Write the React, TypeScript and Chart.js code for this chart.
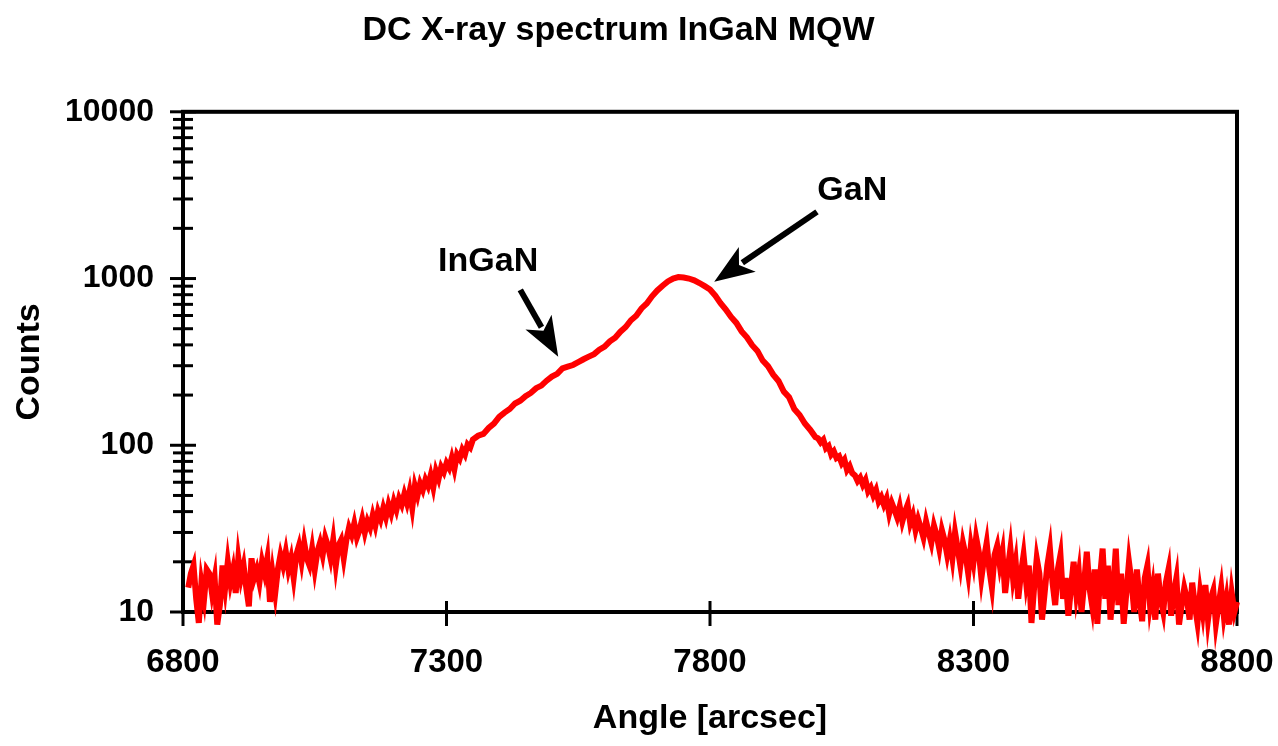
import React, { useEffect, useRef } from 'react';
import { Chart, registerables } from 'chart.js';

Chart.register(...registerables);

const TITLE = 'DC X-ray spectrum InGaN MQW';
const X_LABEL = 'Angle [arcsec]';
const Y_LABEL = 'Counts';
const X_TICKS = [6800, 7300, 7800, 8300, 8800];
const Y_DECADES = [10, 100, 1000, 10000];

const ANGLES = [
  6810, 6815, 6820, 6825, 6830, 6835, 6840, 6845, 6850, 6855,
  6860, 6865, 6870, 6875, 6880, 6885, 6890, 6895, 6900, 6905,
  6910, 6915, 6920, 6925, 6930, 6935, 6940, 6945, 6950, 6955,
  6960, 6965, 6970, 6975, 6980, 6985, 6990, 6995, 7000, 7005,
  7010, 7015, 7020, 7025, 7030, 7035, 7040, 7045, 7050, 7055,
  7060, 7065, 7070, 7075, 7080, 7085, 7090, 7095, 7100,
  7105, 7110, 7115, 7120, 7125, 7130, 7135, 7140, 7145, 7150,
  7155, 7160, 7165, 7170, 7175, 7180, 7185, 7190, 7195, 7200,
  7205, 7210, 7215, 7220, 7225, 7230, 7235, 7240, 7245, 7250,
  7255, 7260, 7265, 7270, 7275, 7280, 7285, 7290, 7295, 7300,
  7305, 7310, 7315, 7320, 7325, 7330, 7335, 7340, 7345, 7350,
  7360, 7370, 7380, 7390, 7400,
  7410, 7420, 7430, 7440, 7450, 7460, 7470, 7480, 7490, 7500,
  7510, 7520, 7530, 7540, 7550, 7560, 7570, 7580, 7590, 7600,
  7610, 7620, 7630, 7640, 7650, 7660, 7670, 7680, 7690, 7700,
  7710, 7720, 7730, 7740, 7750, 7760, 7770, 7780, 7790, 7800,
  7810, 7820, 7830, 7840, 7850, 7860, 7870, 7880, 7890, 7900,
  7910, 7920, 7930, 7940, 7950, 7960, 7970, 7980, 7990, 8000,
  8005, 8010, 8015, 8020, 8025, 8030, 8035, 8040, 8045, 8050,
  8055, 8060, 8065, 8070, 8075, 8080, 8085, 8090, 8095, 8100,
  8105, 8110, 8115, 8120, 8125, 8130, 8135, 8140, 8145, 8150,
  8155, 8160, 8165, 8170, 8175, 8180, 8185, 8190, 8195, 8200,
  8205, 8210, 8215, 8220, 8225, 8230, 8235, 8240, 8245, 8250,
  8255, 8260, 8265, 8270, 8275, 8280, 8285, 8290, 8295, 8300,
  8305, 8310, 8315, 8320, 8325, 8330, 8335, 8340, 8345, 8350,
  8355, 8360, 8365, 8370, 8375, 8380, 8385, 8390, 8395, 8400,
  8405, 8410, 8415, 8420, 8425, 8430, 8435, 8440, 8445, 8450,
  8455, 8460, 8465, 8470, 8475, 8480, 8485, 8490, 8495, 8500,
  8505, 8510, 8515, 8520, 8525, 8530, 8535, 8540, 8545, 8550,
  8555, 8560, 8565, 8570, 8575, 8580, 8585, 8590, 8595, 8600,
  8605, 8610, 8615, 8620, 8625, 8630, 8635, 8640, 8645, 8650,
  8655, 8660, 8665, 8670, 8675, 8680, 8685, 8690, 8695, 8700,
  8705, 8710, 8715, 8720, 8725, 8730, 8735, 8740, 8745, 8750,
  8755, 8760, 8765, 8770, 8775, 8780, 8785, 8790, 8795, 8800,
];

const COUNTS = [
  14, 17, 19, 12, 8.6, 15, 12, 18, 17, 13,
  16, 8.4, 11, 19, 14, 20, 15, 18, 13, 21,
  16, 19, 14, 10.8, 21, 16, 18, 15, 20, 17,
  21, 11.5, 17, 13, 18, 22, 19, 23, 18, 21,
  16, 22, 25, 20, 26, 21, 19, 24, 18, 23,
  26, 22, 28, 25, 21, 27, 19, 25, 27,
  21, 27, 32, 29, 34, 28, 31, 36, 30, 35,
  32, 38, 33, 40, 36, 42, 37, 44, 39, 46,
  41, 48, 44, 51, 45, 53, 42, 57, 50, 59,
  54, 62, 57, 66, 56, 70, 63, 74, 69, 78,
  73, 84, 72, 88, 83, 94, 88, 101, 97, 108,
  114, 117, 127, 135, 148,
  157, 165, 178, 185, 197, 206, 220, 228, 244, 258,
  268, 289, 296, 303, 315, 328, 340, 352, 374, 390,
  420, 442, 480, 512, 562, 598, 662, 708, 782, 848,
  905, 960, 1000, 1020, 1015, 1000, 975, 940, 900, 860,
  790, 712, 652, 588, 542, 482, 444, 398, 368, 322,
  298, 265, 243, 210, 194, 165, 152, 135, 124, 112,
  110, 104, 108, 96, 99, 88, 92, 84, 86, 78,
  82, 71, 75, 68, 66, 61, 64, 58, 62, 53,
  56, 50, 54, 46, 49, 44, 48, 39, 45, 41,
  37, 43, 35, 40, 44, 34, 38, 31, 36, 32,
  28, 35, 30, 26, 33, 29, 24, 31, 27, 22,
  27, 21, 30, 24, 19, 26, 22, 17, 25, 20,
  28, 23, 16, 21, 26, 18, 14, 22, 25, 19,
  23, 13, 18, 24, 16, 20, 12, 17, 22, 15,
  19, 8.6, 14, 21, 17, 9, 13, 19, 24, 15,
  11, 18, 22, 12, 16, 9.5, 14, 20, 13, 17,
  10, 15, 23, 14, 11, 18, 8.5, 16, 24, 12,
  19, 9, 14, 24, 11, 17, 8.5, 13, 20, 15,
  10, 18, 12, 8.8, 16, 19, 11, 14, 9, 17,
  12, 10, 15, 18, 9.5, 13, 16, 8.4, 11, 14,
  12, 9, 15, 11, 8.6, 13, 10, 14.5, 9, 12,
  13.5, 8.5, 11, 14, 9.5, 12, 8.4, 13, 10, 11.5,
];

// label position, arrow start and arrow tip, in data coordinates (angle, counts)
const ANNOTATION_TEXT = ['InGaN', 'GaN'];
const ANNOTATION_LABEL_AT = [[7379, 1258], [8070, 3350]];
const ANNOTATION_FROM = [[7440, 855], [8003, 2510]];
const ANNOTATION_TO = [[7512, 339], [7808, 955]];

const FONT = '"Liberation Sans", Arial, Helvetica, sans-serif';

const framePlugin = {
  id: 'frame',
  beforeDatasetsDraw(chart: any) {
    const { ctx, chartArea: a, scales } = chart;
    const xs = scales.x;
    const ys = scales.y;
    ctx.save();
    ctx.strokeStyle = '#000';
    ctx.lineCap = 'butt';
    ctx.lineWidth = 4;
    ctx.strokeRect(a.left, a.top, a.right - a.left, a.bottom - a.top);
    ctx.lineWidth = 3;
    const seg = (x1: number, y1: number, x2: number, y2: number) => {
      ctx.beginPath();
      ctx.moveTo(x1, y1);
      ctx.lineTo(x2, y2);
      ctx.stroke();
    };
    for (let i = 0; i < Y_DECADES.length - 1; i++) {
      for (let m = 1; m <= 9; m++) {
        const py = ys.getPixelForValue(Y_DECADES[i] * m);
        const len = m === 1 ? 13 : 10;
        seg(a.left - len, py, a.left + len, py);
      }
    }
    const pTop = ys.getPixelForValue(Y_DECADES[Y_DECADES.length - 1]);
    seg(a.left - 13, pTop, a.left + 13, pTop);
    for (const t of X_TICKS) {
      const px = xs.getPixelForValue(t);
      seg(px, a.bottom - 11, px, a.bottom + 14);
    }
    ctx.restore();
  },
  afterDatasetsDraw(chart: any) {
    const { ctx, scales } = chart;
    const xs = scales.x;
    const ys = scales.y;
    ctx.save();
    ctx.fillStyle = '#000';
    ctx.strokeStyle = '#000';
    ctx.font = `bold 34px ${FONT}`;
    ctx.textAlign = 'center';
    ctx.textBaseline = 'middle';
    for (let i = 0; i < ANNOTATION_TEXT.length; i++) {
      const lx = xs.getPixelForValue(ANNOTATION_LABEL_AT[i][0]);
      const ly = ys.getPixelForValue(ANNOTATION_LABEL_AT[i][1]);
      ctx.fillText(ANNOTATION_TEXT[i], lx, ly);
      const fx = xs.getPixelForValue(ANNOTATION_FROM[i][0]);
      const fy = ys.getPixelForValue(ANNOTATION_FROM[i][1]);
      const tx = xs.getPixelForValue(ANNOTATION_TO[i][0]);
      const ty = ys.getPixelForValue(ANNOTATION_TO[i][1]);
      const ang = Math.atan2(ty - fy, tx - fx);
      const headLen = 40;
      const headW = 15;
      const bx = tx - headLen * Math.cos(ang);
      const by = ty - headLen * Math.sin(ang);
      ctx.lineWidth = 6;
      ctx.beginPath();
      ctx.moveTo(fx, fy);
      ctx.lineTo(bx + 6 * Math.cos(ang), by + 6 * Math.sin(ang));
      ctx.stroke();
      ctx.beginPath();
      ctx.moveTo(tx, ty);
      ctx.lineTo(bx + headW * Math.sin(ang), by - headW * Math.cos(ang));
      ctx.lineTo(bx + 10 * Math.cos(ang), by + 10 * Math.sin(ang));
      ctx.lineTo(bx - headW * Math.sin(ang), by + headW * Math.cos(ang));
      ctx.closePath();
      ctx.fill();
    }
    ctx.restore();
  },
};

export default function App() {
  const ref = useRef<HTMLCanvasElement | null>(null);
  useEffect(() => {
    document.body.style.margin = '0';
    const canvas = ref.current;
    if (!canvas) return;
    const chart = new Chart(canvas, {
      type: 'line',
      data: {
        datasets: [
          {
            label: 'Counts',
            data: ANGLES.map((a, i) => ({ x: a, y: COUNTS[i] })),
            borderColor: '#ff0000',
            borderWidth: 6,
            pointRadius: 0,
            tension: 0,
            fill: false,
            clip: false as any,
          },
        ],
      },
      options: {
        responsive: false,
        animation: false,
        layout: { padding: { top: 0, left: 0, right: 41, bottom: 0 } },
        plugins: {
          legend: { display: false },
          tooltip: { enabled: false },
          title: {
            display: true,
            text: TITLE,
            color: '#000',
            font: { family: FONT, size: 34, weight: 'bold' },
            padding: { top: 10, bottom: 61 },
          },
        },
        scales: {
          x: {
            type: 'linear',
            min: 6800,
            max: 8800,
            afterFit: (s: any) => {
              s.height = 134;
              s.paddingLeft = 0;
              s.paddingRight = 0;
            },
            afterBuildTicks: (s: any) => {
              s.ticks = X_TICKS.map((v) => ({ value: v }));
            },
            grid: { display: false, drawTicks: false },
            border: { display: false },
            ticks: {
              color: '#000',
              font: { family: FONT, size: 33, weight: 'bold' },
              padding: 31,
              maxRotation: 0,
              autoSkip: false,
              callback: (v: any) => String(v),
            },
            title: {
              display: true,
              text: X_LABEL,
              color: '#000',
              font: { family: FONT, size: 34, weight: 'bold' },
              padding: { top: 0, bottom: 7 },
            },
          },
          y: {
            type: 'logarithmic',
            min: 10,
            max: 10000,
            afterFit: (s: any) => {
              s.width = 183;
              s.paddingTop = 0;
              s.paddingBottom = 0;
            },
            afterBuildTicks: (s: any) => {
              s.ticks = Y_DECADES.map((v) => ({ value: v }));
            },
            grid: { display: false, drawTicks: false },
            border: { display: false },
            ticks: {
              color: '#000',
              font: { family: FONT, size: 32, weight: 'bold' },
              padding: 29,
              autoSkip: false,
              callback: (v: any) => String(v),
            },
            title: {
              display: true,
              text: Y_LABEL,
              color: '#000',
              font: { family: FONT, size: 34, weight: 'bold' },
              padding: { top: 9, bottom: 0 },
            },
          },
        },
      },
      plugins: [framePlugin],
    });
    return () => chart.destroy();
  }, []);
  return (
    <div style={{ width: 1278, height: 746, background: '#fff' }}>
      <canvas ref={ref} width={1278} height={746} />
    </div>
  );
}
